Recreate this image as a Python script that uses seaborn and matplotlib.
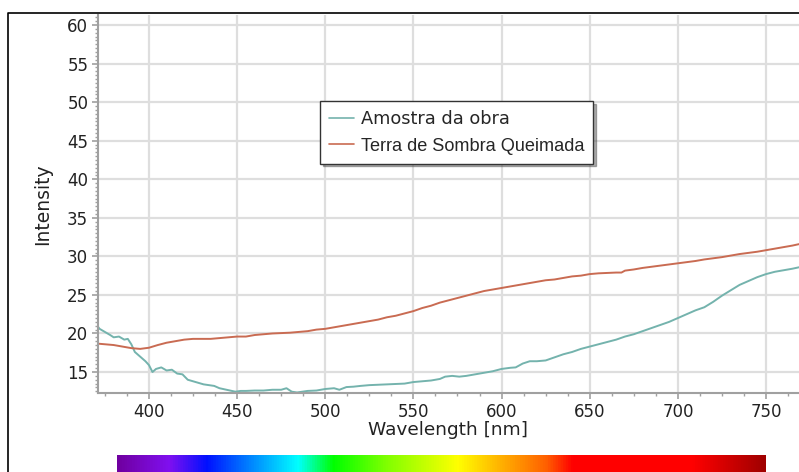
import numpy as np
import pandas as pd
import matplotlib
matplotlib.use("Agg")
import matplotlib.pyplot as plt
import seaborn as sns
from matplotlib.colors import LinearSegmentedColormap
from matplotlib.ticker import MultipleLocator
from matplotlib.lines import Line2D

# ---------------- data ----------------
series_names = ["Amostra da obra", "Terra de Sombra Queimada"]
series_colors = ["#74b3ad", "#c96b52"]

amostra_wl = [370, 372, 375, 378, 380, 383, 386, 388, 390, 392, 395, 398, 400, 402, 404, 407,
              410, 413, 416, 419, 422, 425, 428, 431, 434, 437, 440, 443, 446, 449, 452, 455,
              460, 465, 470, 475, 478, 481, 484, 487, 490, 495, 500, 505, 508, 512, 516, 520,
              525, 530, 535, 540, 545, 550, 555, 560, 565, 568, 572, 576, 580, 585, 590, 595,
              600, 605, 608, 612, 616, 620, 625, 630, 635, 640, 645, 650, 655, 660, 665, 670,
              675, 680, 685, 690, 695, 700, 705, 710, 715, 720, 725, 730, 735, 740, 745, 750,
              755, 760, 765, 769]
amostra_int = [21.2, 20.6, 20.2, 19.8, 19.5, 19.6, 19.2, 19.3, 18.6, 17.6, 17.0, 16.4, 15.9, 15.0, 15.4, 15.6,
               15.2, 15.3, 14.8, 14.7, 14.0, 13.8, 13.6, 13.4, 13.3, 13.2, 12.9, 12.75, 12.6, 12.45, 12.55, 12.55,
               12.6, 12.6, 12.7, 12.7, 12.9, 12.45, 12.35, 12.45, 12.55, 12.6, 12.8, 12.9, 12.7, 13.05, 13.1, 13.2,
               13.3, 13.35, 13.4, 13.45, 13.5, 13.7, 13.8, 13.9, 14.1, 14.4, 14.5, 14.4, 14.5, 14.7, 14.9, 15.1,
               15.4, 15.55, 15.6, 16.1, 16.4, 16.4, 16.5, 16.9, 17.3, 17.6, 18.0, 18.3, 18.6, 18.9, 19.2, 19.6,
               19.9, 20.3, 20.7, 21.1, 21.5, 22.0, 22.5, 23.0, 23.4, 24.1, 24.9, 25.6, 26.3, 26.8, 27.3, 27.7,
               28.0, 28.2, 28.4, 28.6]

terra_wl = [370, 375, 380, 385, 390, 395, 400, 405, 410, 415, 420, 425, 430, 435, 440, 445,
            450, 455, 460, 465, 470, 475, 480, 485, 490, 495, 500, 505, 510, 515, 520, 525,
            530, 535, 540, 545, 550, 555, 560, 565, 570, 575, 580, 585, 590, 595, 600, 605,
            610, 615, 620, 625, 630, 635, 640, 645, 650, 655, 660, 665, 668, 670, 675, 680,
            685, 690, 695, 700, 705, 710, 715, 720, 725, 730, 735, 740, 745, 750, 755, 760,
            765, 769]
terra_int = [18.7, 18.6, 18.5, 18.3, 18.1, 18.0, 18.15, 18.5, 18.8, 19.0, 19.2, 19.3, 19.3, 19.3, 19.4, 19.5,
             19.6, 19.6, 19.8, 19.9, 20.0, 20.05, 20.1, 20.2, 20.3, 20.5, 20.6, 20.8, 21.0, 21.2, 21.4, 21.6,
             21.8, 22.1, 22.3, 22.6, 22.9, 23.3, 23.6, 24.0, 24.3, 24.6, 24.9, 25.2, 25.5, 25.7, 25.9, 26.1,
             26.3, 26.5, 26.7, 26.9, 27.0, 27.2, 27.4, 27.5, 27.7, 27.8, 27.85, 27.9, 27.9, 28.15, 28.3, 28.5,
             28.65, 28.8, 28.95, 29.1, 29.25, 29.4, 29.6, 29.75, 29.9, 30.1, 30.3, 30.45, 30.6, 30.8, 31.0, 31.2,
             31.4, 31.6]

x_ticks = [400, 450, 500, 550, 600, 650, 700, 750]
y_ticks = [15, 20, 25, 30, 35, 40, 45, 50, 55, 60]

spectrum_pos = [0.0, 0.079, 0.137, 0.202, 0.278, 0.333, 0.415, 0.525, 0.593, 0.662, 0.703, 0.888, 1.0]
spectrum_col = ["#7000a0", "#8010f0", "#0010ff", "#0080ff", "#00ffff", "#00ff00", "#80ff00",
                "#ffff00", "#ffb000", "#ff6000", "#ff0000", "#ff0000", "#a00000"]

# ---------------- figure ----------------
sns.set_theme(style="white")
plt.rcParams["font.family"] = ["DejaVu Sans"]

W, H = 799, 472
fig = plt.figure(figsize=(W / 100, H / 100), dpi=100)

def px_rect(x0, y0, x1, y1):
    return [x0 / W, 1 - y1 / H, (x1 - x0) / W, (y1 - y0) / H]

ax = fig.add_axes(px_rect(98, 15, 799, 393))

df = pd.concat([
    pd.DataFrame({"Wavelength": amostra_wl, "Intensity": amostra_int, "Serie": series_names[0]}),
    pd.DataFrame({"Wavelength": terra_wl, "Intensity": terra_int, "Serie": series_names[1]}),
], ignore_index=True)

sns.lineplot(data=df, x="Wavelength", y="Intensity", hue="Serie", hue_order=series_names,
             palette=series_colors, estimator=None, sort=False, linewidth=1.4, ax=ax)

ax.set_xlim(371.1, 768.7)
ax.set_ylim(12.28, 61.3)
ax.set_xticks(x_ticks)
ax.set_yticks(y_ticks)
ax.xaxis.set_minor_locator(MultipleLocator(12.5))
ax.yaxis.set_minor_locator(MultipleLocator(0.5))
ax.grid(True, which="major", color="#dedede", linewidth=1.6)
ax.set_axisbelow(True)
for s in ["top", "right"]:
    ax.spines[s].set_visible(False)
for s in ["left", "bottom"]:
    ax.spines[s].set_color("#a0a0a0")
    ax.spines[s].set_linewidth(1.5)
ax.tick_params(axis="both", which="major", direction="out", length=4, width=1.2,
               color="#a0a0a0", labelsize=12, labelcolor="#222222", pad=3,
               bottom=True, left=True)
ax.tick_params(axis="both", which="minor", direction="out", length=2.5, width=1.0,
               color="#a0a0a0", bottom=True, left=True)
ax.set_xlabel("Wavelength [nm]", fontsize=13.3, color="#222222", labelpad=0)
ax.set_ylabel("Intensity", fontsize=13.5, color="#222222", labelpad=11)

leg = ax.legend(loc="upper left", bbox_to_anchor=((320 - 98) / 701, (393 - 101) / 378),
                borderaxespad=0, frameon=True, fancybox=False,
                shadow={"color": "0.3", "alpha": 0.45},
                fontsize=12.8, handlelength=1.4, handletextpad=0.4, borderpad=0.5,
                labelspacing=0.55, title=None)
leg.get_frame().set_edgecolor("#333333")
leg.get_frame().set_linewidth(1.0)
leg.get_frame().set_facecolor("white")
for ln in leg.get_lines():
    ln.set_linewidth(1.2)
leg.get_texts()[1].set_fontfamily(["Liberation Sans"])
leg.get_texts()[1].set_fontsize(13.1)

# spectrum bar
sax = fig.add_axes(px_rect(117, 455, 766, 472))
cmap = LinearSegmentedColormap.from_list("spec", list(zip(spectrum_pos, spectrum_col)))
sax.imshow(np.linspace(0, 1, 512)[None, :], aspect="auto", cmap=cmap, extent=[0, 1, 0, 1])
sax.set_axis_off()

# screenshot frame border
fig.add_artist(Line2D([8 / W, 8 / W, 1], [0, 1 - 13 / H, 1 - 13 / H], color="black", linewidth=1.2,
                      transform=fig.transFigure))

fig.savefig("out.png", dpi=100)
